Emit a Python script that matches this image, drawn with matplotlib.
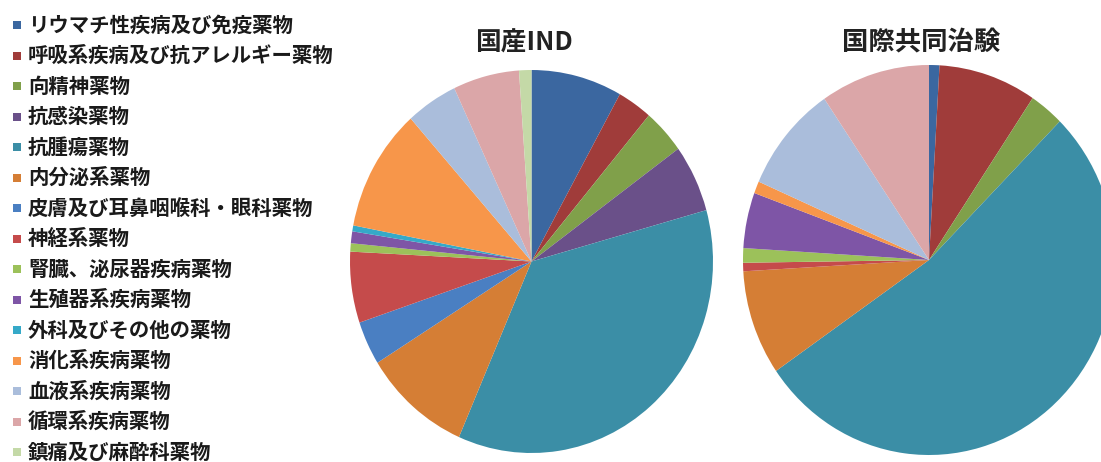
import matplotlib.pyplot as plt

plt.rcParams['font.family'] = ['Noto Sans CJK JP', 'DejaVu Sans']

# categories (legend order = slice order, clockwise from 12 o'clock)
categories = [
    'リウマチ性疾病及び免疫薬物',
    '呼吸系疾病及び抗アレルギー薬物',
    '向精神薬物',
    '抗感染薬物',
    '抗腫瘍薬物',
    '内分泌系薬物',
    '皮膚及び耳鼻咽喉科・眼科薬物',
    '神経系薬物',
    '腎臓、泌尿器疾病薬物',
    '生殖器系疾病薬物',
    '外科及びその他の薬物',
    '消化系疾病薬物',
    '血液系疾病薬物',
    '循環系疾病薬物',
    '鎮痛及び麻酔科薬物',
]
colors = [
    '#3b67a0', '#a03c3a', '#80a04a', '#6a5089', '#3b8ea6',
    '#d57e35', '#4a7fc2', '#c54b4b', '#9cc15a', '#7e55a6',
    '#35a9c8', '#f7964a', '#aabddb', '#dba6a8', '#c4d9a7',
]

# shares (%)
domestic_ind = [8.1, 3.1, 3.8, 5.7, 35.9, 9.6, 3.7, 6.0, 0.7, 1.0, 0.5, 10.4, 4.6, 5.9, 1.1]
global_trials = [0.9, 8.5, 3.0, 0.0, 52.9, 8.7, 0.0, 0.7, 1.2, 4.6, 0.0, 1.0, 8.9, 9.5, 0.0]

titles = ['国産IND', '国際共同治験']

W, H = 1101, 462
fig = plt.figure(figsize=(W / 100, H / 100), dpi=100)


def px_axes(cx, cy, rx, ry):
    # axes box in pixel units (y measured from top)
    return fig.add_axes([(cx - rx) / W, (H - cy - ry) / H, 2 * rx / W, 2 * ry / H])


def draw_pie(ax, values):
    ax.pie(values, colors=colors, startangle=90, counterclock=False,
           wedgeprops=dict(linewidth=0))
    ax.set_aspect('auto')
    ax.set_xlim(-1, 1)
    ax.set_ylim(-1, 1)
    ax.axis('off')


ax1 = px_axes(531.5, 261.5, 181.5, 191.5)
draw_pie(ax1, domestic_ind)
ax2 = px_axes(929, 260, 186, 195)
draw_pie(ax2, global_trials)

# titles
fig.text(524 / W, 1 - 43 / H, titles[0], ha='center', va='center',
         fontsize=18.5, fontweight='bold', color='#222222')
fig.text(921 / W, 1 - 43 / H, titles[1], ha='center', va='center',
         fontsize=19, fontweight='bold', color='#222222')

# legend on the left
leg = fig.add_axes([0, 0, 1, 1])
leg.set_xlim(0, W)
leg.set_ylim(H, 0)
leg.axis('off')
y0, dy = 25, 30.5
for i, (name, c) in enumerate(zip(categories, colors)):
    y = y0 + i * dy
    leg.scatter([17], [y], marker='s', s=30, color=c, linewidths=0)
    leg.text(28, y, name, ha='left', va='center', fontsize=14.7,
             fontweight='bold', color='#1a1a1a')

fig.savefig('out.png', dpi=100)
